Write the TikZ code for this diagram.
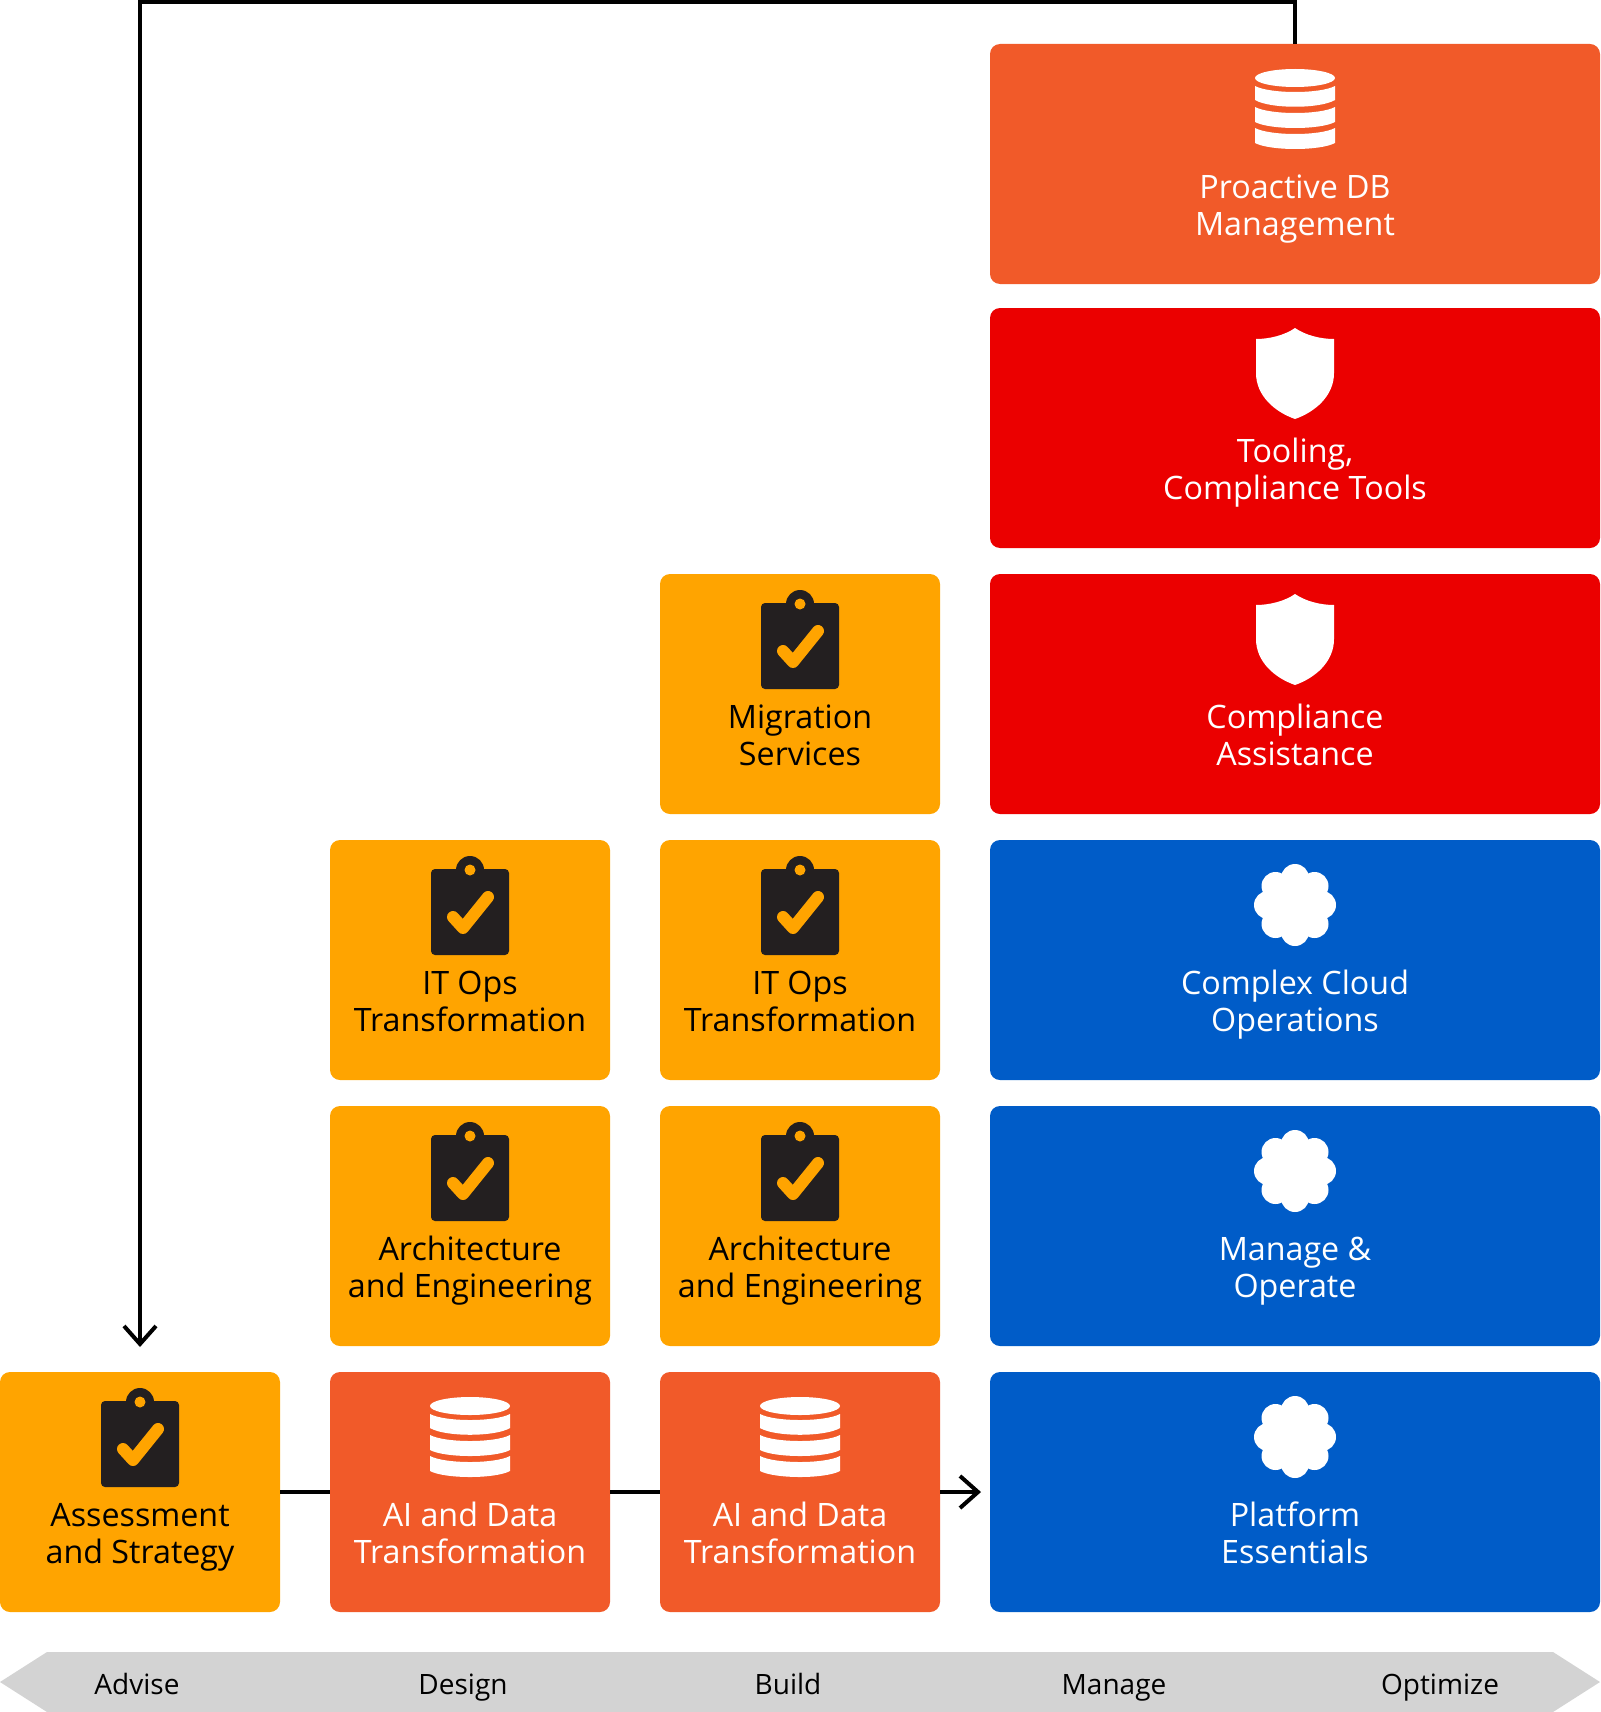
\documentclass[tikz,border=0pt]{standalone}
\usepackage{fontspec}
\setmainfont{Open Sans}
\usetikzlibrary{arrows.meta}
\definecolor{cOrange}{HTML}{FFA400}
\definecolor{cCoral}{HTML}{F15A29}
\definecolor{cRed}{HTML}{EB0000}
\definecolor{cBlue}{HTML}{005CC8}
\definecolor{cDark}{HTML}{231F20}
\definecolor{cGray}{HTML}{D3D3D3}
\tikzset{
  x=1pt,y=-1pt,
  tile/.style={anchor=north west,inner sep=0pt,outer sep=0pt,rounded corners=10pt,minimum height=240pt},
  narrow/.style={tile,minimum width=280pt},
  wide/.style={tile,minimum width=610pt},
  lbl/.style={anchor=base,align=center,inner sep=0pt,font=\fontsize{32.25}{36.8}\selectfont},
  phase/.style={anchor=base,inner sep=0pt,font=\fontsize{28}{36}\selectfont,text=black},
  link/.style={draw=black,line width=4pt},
  arrowed/.style={link,-{Straight Barb[length=18pt,width=32pt,line width=4pt]}},
  pics/clipicon/.style={code={
    \fill[cDark,rounded corners=4pt] (-39,29) rectangle (39,115);
    \fill[cDark] (0,30) circle[radius=14];
    \fill[cOrange] (0,30) circle[radius=5.5];
    \draw[cOrange,line width=12pt,line cap=round,line join=round] (-17,77) -- (-7,88) -- (18,57);
  }},
  pics/dbicon/.style={code={
    \fill[white] (0,34) ellipse[x radius=40,y radius=9];
    \fill[white] (-40,42) .. controls (-25,50) and (25,50) .. (40,42) -- (40,56) .. controls (25,65) and (-25,65) .. (-40,56) -- cycle;
    \fill[white] (-40,63) .. controls (-25,71) and (25,71) .. (40,63) -- (40,78) .. controls (25,86) and (-25,86) .. (-40,78) -- cycle;
    \fill[white] (-40,84) .. controls (-25,92) and (25,92) .. (40,84) -- (40,99) .. controls (25,107) and (-25,107) .. (-40,99) -- cycle;
  }},
  pics/shieldicon/.style={code={
    \fill[white] (0,20) .. controls (10,27) and (25,31) .. (39,31) -- (39,65) .. controls (39,88) and (20,104) .. (0,111)
      .. controls (-20,104) and (-39,88) .. (-39,65) -- (-39,31) .. controls (-25,31) and (-10,27) .. (0,20) -- cycle;
  }},
  pics/flowericon/.style={code={
    \fill[white] (0,65) circle[radius=27];
    \foreach \dx/\dy in {0/-27,0/27,-27/0,27/0,-19.5/-19,19.5/-19,-19.5/19,19.5/19}
      \fill[white] (\dx,65+\dy) circle[radius=14];
  }},
}
\begin{document}
\begin{tikzpicture}
\useasboundingbox (0,0) rectangle (1600,1712);
% gray phase band
\fill[cGray] (0,1682) -- (47,1652) -- (1553,1652) -- (1600,1682) -- (1553,1712) -- (47,1712) -- cycle;
\node[phase] (pAdvise) at (137,1694) {Advise};
\node[phase] (pDesign) at (463,1694) {Design};
\node[phase] (pBuild) at (788,1694) {Build};
\node[phase] (pManage) at (1114,1694) {Manage};
\node[phase] (pOptimize) at (1440,1694) {Optimize};
% right column
\node[wide,fill=cCoral] (proactive) at (990,44) {};
\node[wide,fill=cRed] (tooling) at (990,308) {};
\node[wide,fill=cRed] (compliance) at (990,574) {};
\node[wide,fill=cBlue] (cloud) at (990,840) {};
\node[wide,fill=cBlue] (manage) at (990,1106) {};
\node[wide,fill=cBlue] (platform) at (990,1372) {};
% build column
\node[narrow,fill=cOrange] (migration) at (660,574) {};
\node[narrow,fill=cOrange] (itopsB) at (660,840) {};
\node[narrow,fill=cOrange] (archB) at (660,1106) {};
\node[narrow,fill=cCoral] (aiB) at (660,1372) {};
% design column
\node[narrow,fill=cOrange] (itopsD) at (330,840) {};
\node[narrow,fill=cOrange] (archD) at (330,1106) {};
\node[narrow,fill=cCoral] (aiD) at (330,1372) {};
% advise column
\node[narrow,fill=cOrange] (assess) at (0,1372) {};
% icons
\pic at (proactive.north) {dbicon};
\pic at (tooling.north) {shieldicon};
\pic at (compliance.north) {shieldicon};
\pic at (cloud.north) {flowericon};
\pic at (manage.north) {flowericon};
\pic at (platform.north) {flowericon};
\pic at (migration.north) {clipicon};
\pic at (itopsB.north) {clipicon};
\pic at (archB.north) {clipicon};
\pic at (aiB.north) {dbicon};
\pic at (itopsD.north) {clipicon};
\pic at (archD.north) {clipicon};
\pic at (aiD.north) {dbicon};
\pic at (assess.north) {clipicon};
% labels
\node[lbl,text=white] (tProactive) at (1295,235.5) {Proactive DB\\Management};
\node[lbl,text=white] (tTooling) at (1295,499.5) {Tooling,\\Compliance Tools};
\node[lbl,text=white] (tCompliance) at (1295,765.5) {Compliance\\Assistance};
\node[lbl,text=white] (tCloud) at (1295,1031.5) {Complex Cloud\\Operations};
\node[lbl,text=white] (tManage) at (1295,1297.5) {Manage \&\\Operate};
\node[lbl,text=white] (tPlatform) at (1295,1563.5) {Platform\\Essentials};
\node[lbl,text=black] (tMigration) at (800,765.5) {Migration\\Services};
\node[lbl,text=black] (tItopsB) at (800,1031.5) {IT Ops\\Transformation};
\node[lbl,text=black] (tArchB) at (800,1297.5) {Architecture\\and Engineering};
\node[lbl,text=white] (tAiB) at (800,1563.5) {AI and Data\\Transformation};
\node[lbl,text=black] (tItopsD) at (470,1031.5) {IT Ops\\Transformation};
\node[lbl,text=black] (tArchD) at (470,1297.5) {Architecture\\and Engineering};
\node[lbl,text=white] (tAiD) at (470,1563.5) {AI and Data\\Transformation};
\node[lbl,text=black] (tAssess) at (140,1563.5) {Assessment\\and Strategy};
% connectors
\draw[link] (assess.east) -- (aiD.west);
\draw[link] (aiD.east) -- (aiB.west);
\draw[arrowed,shorten >=9pt] (aiB.east) -- (platform.west);
\coordinate (loopR) at (proactive.north |- 0,2);
\coordinate (loopL) at (assess.north |- 0,2);
\draw[arrowed,shorten >=25pt,line join=miter] (proactive.north) -- (loopR) -- (loopL) -- (assess.north);
\end{tikzpicture}
\end{document}
